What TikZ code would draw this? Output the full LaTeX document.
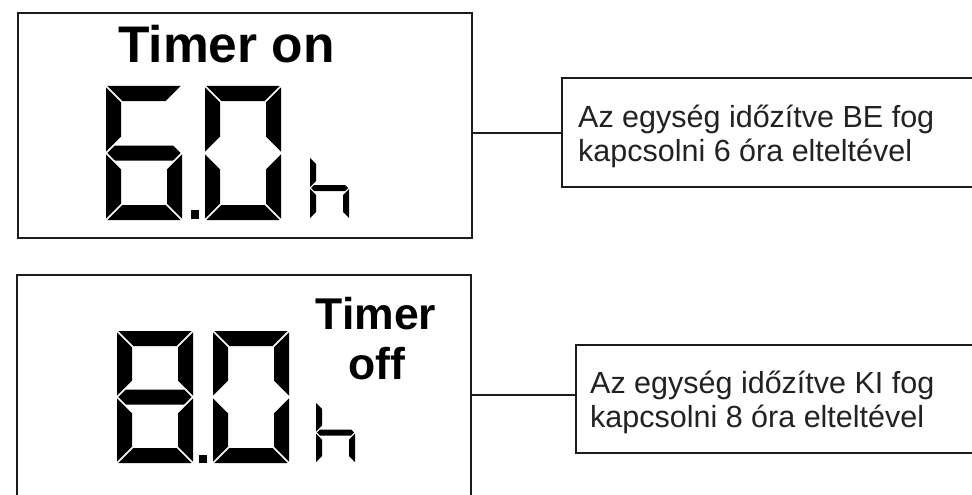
\documentclass[tikz,border=0pt]{standalone}
\usepackage{fontspec}
\setmainfont{Liberation Sans}
\definecolor{linecol}{HTML}{1C1C1C}
\definecolor{txtcol}{HTML}{222222}
% segment outlines of a seven-segment digit (pixel units, y pointing down)
\def\sgpatha{({\sgD},0) -- ({\sgW-\sgD},0) -- ({\sgW-\sgT-\sgD},{\sgT}) -- ({\sgT+\sgD},{\sgT}) -- cycle}
\def\sgpathb{({\sgW},{\sgD}) -- ({\sgW-\sgT},{\sgT+\sgD}) -- ({\sgW-\sgT},{\sgM-\sgT-\sgD}) -- ({\sgW},{\sgM-\sgD}) -- cycle}
\def\sgpathc{({\sgW},{\sgM+\sgD}) -- ({\sgW-\sgT},{\sgM+\sgT+\sgD}) -- ({\sgW-\sgT},{\sgH-\sgT-\sgD}) -- ({\sgW},{\sgH-\sgD}) -- cycle}
\def\sgpathd{({\sgD},{\sgH}) -- ({\sgW-\sgD},{\sgH}) -- ({\sgW-\sgT-\sgD},{\sgH-\sgT}) -- ({\sgT+\sgD},{\sgH-\sgT}) -- cycle}
\def\sgpathe{(0,{\sgM+\sgD}) -- ({\sgT},{\sgM+\sgT+\sgD}) -- ({\sgT},{\sgH-\sgT-\sgD}) -- (0,{\sgH-\sgD}) -- cycle}
\def\sgpathf{(0,{\sgD}) -- ({\sgT},{\sgT+\sgD}) -- ({\sgT},{\sgM-\sgT-\sgD}) -- (0,{\sgM-\sgD}) -- cycle}
\def\sgpathg{({\sgD},{\sgM}) -- ({\sgh+\sgD},{\sgM-\sgh}) -- ({\sgW-\sgh-\sgD},{\sgM-\sgh}) -- ({\sgW-\sgD},{\sgM}) -- ({\sgW-\sgh-\sgD},{\sgM+\sgh}) -- ({\sgh+\sgD},{\sgM+\sgh}) -- cycle}
% #1 x, #2 y, #3 width, #4 height, #5 thickness, #6 gap offset, #7 segments
\newcommand\sevdigit[7]{%
  \begin{scope}[shift={(#1,#2)}]
    \def\sgW{#3}\def\sgH{#4}\def\sgT{#5}\def\sgD{#6}%
    \pgfmathsetmacro\sgM{#4/2}\pgfmathsetmacro\sgh{#5/2}%
    \foreach \s in {#7}{\fill[segfill] \csname sgpath\s\endcsname;}
  \end{scope}}
\tikzset{
  frame/.style={draw=linecol, line width=2pt, inner sep=0pt, outer sep=0pt, anchor=north west},
  conn/.style={draw=linecol, line width=2pt},
  bigtxt/.style={font=\bfseries\fontsize{51.5}{51.5}\selectfont, inner sep=0pt, anchor=base},
  midtxt/.style={font=\bfseries\fontsize{44.5}{44.5}\selectfont, inner sep=0pt, anchor=base},
  calltxt/.style={font=\fontsize{30.5}{34.5}\selectfont, text=txtcol, inner sep=0pt, anchor=base west},
  segfill/.style={fill=black},
}
\begin{document}
\begin{tikzpicture}[x=1pt,y=-1pt]
\clip (0,0) rectangle (972,495);
\fill[white] (0,0) rectangle (972,495);

% display boxes
\node[frame, minimum width=454pt, minimum height=225pt] (scr1) at (18,13) {};
\node[frame, minimum width=454pt, minimum height=260pt] (scr2) at (17,275) {};

% callout boxes
\node[frame, minimum width=430pt, minimum height=109pt] (call1) at (562,78) {};
\node[frame, minimum width=420pt, minimum height=108pt] (call2) at (576,345) {};

% connectors
\draw[conn] (call1.west) -- (call1.west -| scr1.east);
\draw[conn] ([yshift=4pt]call2.west) -- ([yshift=4pt]call2.west -| scr2.east);

% texts in displays
\node[bigtxt] (ton) at (226.5,63) {Timer on};
\node[midtxt] (toff1) at (376,329) {Timer};
\node[midtxt] (toff2) at (377,379) {off};

% callout texts
\node[calltxt] (txt1) at (578,127) {\parbox[t]{390pt}{Az egység időzítve BE fog\\kapcsolni 6 óra elteltével}};
\node[calltxt] (txt2) at (590,393) {\parbox[t]{380pt}{Az egység időzítve KI fog\\kapcsolni 8 óra elteltével}};

% display 1: 6.0 h
\sevdigit{106}{86}{76}{134}{15}{1.4}{a,f,g,e,d,c}
\fill[segfill] (191,210) rectangle (199,219);
\sevdigit{205}{86}{76}{134}{15}{1.4}{a,b,c,d,e,f}
\sevdigit{310}{157}{39}{62}{6}{1}{f,e,g,c}

% display 2: 8.0 h
\sevdigit{117}{331}{76}{132}{15}{1.4}{a,b,c,d,e,f,g}
\fill[segfill] (199,455) rectangle (207,463);
\sevdigit{213}{331}{76}{132}{15}{1.4}{a,b,c,d,e,f}
\sevdigit{316}{402}{39}{61}{6}{1}{f,e,g,c}
\end{tikzpicture}
\end{document}
